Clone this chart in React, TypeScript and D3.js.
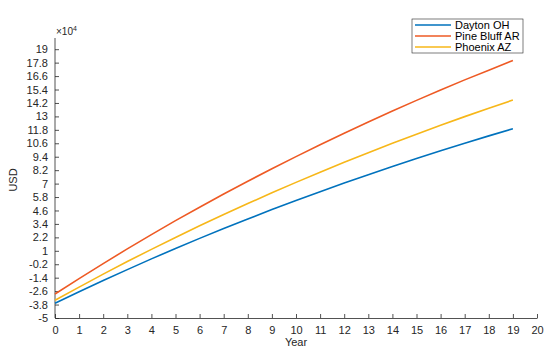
import * as d3 from 'd3';
import React, { useEffect, useRef } from 'react';

// values in units of 10^4 USD, one per year 0..19
const years = d3.range(0, 20);
const daytonOH = [-3.69, -2.66, -1.65, -0.68, 0.28, 1.2, 2.11, 2.99, 3.84, 4.68, 5.49, 6.28, 7.05, 7.8, 8.53, 9.24, 9.93, 10.61, 11.26, 11.9];
const pineBluffAR = [-2.86, -1.48, -0.14, 1.17, 2.44, 3.69, 4.89, 6.07, 7.21, 8.33, 9.41, 10.47, 11.5, 12.5, 13.48, 14.43, 15.35, 16.26, 17.13, 17.99];
const phoenixAZ = [-3.42, -2.24, -1.08, 0.04, 1.13, 2.19, 3.23, 4.24, 5.22, 6.18, 7.11, 8.02, 8.9, 9.76, 10.6, 11.41, 12.2, 12.98, 13.73, 14.46];
const seriesNames = ['Dayton OH', 'Pine Bluff AR', 'Phoenix AZ'];
const seriesColors = ['#0072BD', '#EE5A24', '#F7B719'];
const xTicks = d3.range(0, 21);
const yTicks = [-5, -3.8, -2.6, -1.4, -0.2, 1, 2.2, 3.4, 4.6, 5.8, 7, 8.2, 9.4, 10.6, 11.8, 13, 14.2, 15.4, 16.6, 17.8, 19];

const width = 550;
const height = 354;
const margin = { top: 38, right: 13, bottom: 36, left: 55 };

export default function App() {
    const svgRef = useRef(null);

    useEffect(() => {
        const svg = d3.select(svgRef.current);
        svg.selectAll('*').remove();
        const font = 'Liberation Sans, Arial, Helvetica, sans-serif';
        const axisColor = '#262626';

        const x = d3.scaleLinear().domain([0, 20]).range([margin.left, width - margin.right]);
        const y = d3.scaleLinear().domain([-5, 20]).range([height - margin.bottom, margin.top]);

        // axes with inward ticks like matlab
        const xAxis = svg.append('g')
            .attr('transform', `translate(0, ${height - margin.bottom})`)
            .call(d3.axisBottom(x).tickValues(xTicks).tickSizeInner(-4).tickSizeOuter(0).tickPadding(8).tickFormat(d3.format('d')));
        const yAxis = svg.append('g')
            .attr('transform', `translate(${margin.left}, 0)`)
            .call(d3.axisLeft(y).tickValues(yTicks).tickSizeInner(-4).tickSizeOuter(0).tickPadding(7)
                .tickFormat((d) => String(+(+d).toFixed(1))));

        [xAxis, yAxis].forEach((ax) => {
            ax.select('.domain').attr('stroke', axisColor).attr('stroke-width', 0.8);
            ax.selectAll('.tick line').attr('stroke', axisColor).attr('stroke-width', 0.8);
            ax.selectAll('.tick text').attr('fill', axisColor).style('font-family', font).style('font-size', '11px');
        });
        // axis line goes all the way to the top value
        yAxis.select('.domain').attr('d', `M0,${y(-5)}V${y(20)}`);

        // exponent label
        const expo = svg.append('text')
            .attr('x', margin.left + 1)
            .attr('y', 35)
            .attr('fill', axisColor)
            .style('font-family', font)
            .style('font-size', '10px');
        expo.append('tspan').text('×10');
        expo.append('tspan').attr('dy', -4).style('font-size', '7px').text('4');

        svg.append('text')
            .attr('x', (x(0) + x(20)) / 2)
            .attr('y', 346)
            .attr('text-anchor', 'middle')
            .attr('fill', axisColor)
            .style('font-family', font)
            .style('font-size', '11px')
            .text('Year');

        svg.append('text')
            .attr('transform', `translate(17, ${(y(-5) + y(20)) / 2 + 2}) rotate(-90)`)
            .attr('text-anchor', 'middle')
            .attr('fill', axisColor)
            .style('font-family', font)
            .style('font-size', '11px')
            .text('USD');

        const line = d3.line()
            .x((d) => x(d[0]))
            .y((d) => y(d[1]));

        [daytonOH, pineBluffAR, phoenixAZ].forEach((values, i) => {
            svg.append('path')
                .datum(years.map((yr, j) => [yr, values[j]]))
                .attr('fill', 'none')
                .attr('stroke', seriesColors[i])
                .attr('stroke-width', 1.6)
                .attr('d', line);
        });

        // legend
        const legend = svg.append('g').attr('transform', 'translate(412, 19)');
        legend.append('rect')
            .attr('width', 111)
            .attr('height', 34)
            .attr('fill', '#fff')
            .attr('stroke', '#262626')
            .attr('stroke-width', 0.6);
        const rows = legend.selectAll('g.row').data(seriesNames).join('g')
            .attr('class', 'row')
            .attr('transform', (_, i) => `translate(0, ${6 + i * 11})`);
        rows.append('line')
            .attr('x1', 3).attr('x2', 39)
            .attr('stroke', (_, i) => seriesColors[i])
            .attr('stroke-width', 1.6);
        rows.append('text')
            .attr('x', 43)
            .attr('y', 4)
            .attr('fill', '#000')
            .style('font-family', font)
            .style('font-size', '11px')
            .text((d) => d);
    }, []);

    return (
        <svg ref={svgRef} width={width} height={height} style={{ position: 'absolute', left: 0, top: 0, background: '#fff' }} />
    );
}
